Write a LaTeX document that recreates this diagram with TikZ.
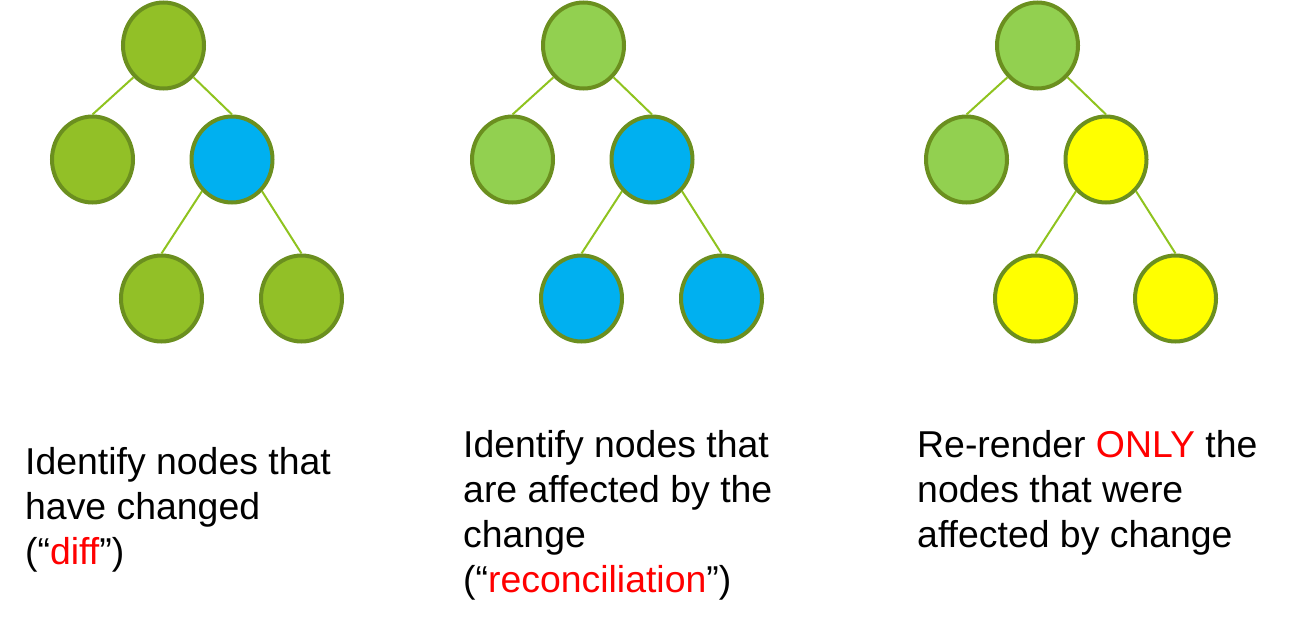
\documentclass[tikz,border=0pt]{standalone}
\usepackage{fontspec}
\setmainfont{Liberation Sans}
\usetikzlibrary{shapes.geometric}
\definecolor{rim}{HTML}{6B8F1F}
\definecolor{edgec}{HTML}{8FC31F}
\definecolor{greenA}{HTML}{92C027}
\definecolor{greenB}{HTML}{92D050}
\definecolor{blueN}{HTML}{00B0F0}
\definecolor{yellowN}{HTML}{FFFF00}
\definecolor{redT}{HTML}{FF0000}
\tikzset{
  tnode/.style={ellipse, draw=rim, line width=4pt, minimum width=81pt, minimum height=86pt, inner sep=0pt},
  tedge/.style={draw=edgec, line width=2pt},
  caption/.style={anchor=base west, align=left, inner sep=0pt, font=\fontsize{37.4}{45}\selectfont}
}
\begin{document}
\begin{tikzpicture}[x=1pt,y=-1pt]
\useasboundingbox (0,0) rectangle (1290,624);
% tree 1
\node[tnode, fill=greenA] (a1) at (163.5,45.5) {};
\node[tnode, fill=greenA] (b1) at (92.5,159.5) {};
\node[tnode, fill=blueN] (c1) at (232,159.5) {};
\node[tnode, fill=greenA] (d1) at (161.5,298.5) {};
\node[tnode, fill=greenA] (e1) at (301.5,298.5) {};
% tree 2
\node[tnode, fill=greenB] (a2) at (583.5,45.5) {};
\node[tnode, fill=greenB] (b2) at (512.5,159.5) {};
\node[tnode, fill=blueN] (c2) at (652,159.5) {};
\node[tnode, fill=blueN] (d2) at (581.5,298.5) {};
\node[tnode, fill=blueN] (e2) at (721.5,298.5) {};
% tree 3
\node[tnode, fill=greenB] (a3) at (1037.5,45.5) {};
\node[tnode, fill=greenB] (b3) at (966.5,159.5) {};
\node[tnode, fill=yellowN] (c3) at (1106,159.5) {};
\node[tnode, fill=yellowN] (d3) at (1035.5,298.5) {};
\node[tnode, fill=yellowN] (e3) at (1175.5,298.5) {};
\foreach \t in {1,2,3}{
  \draw[tedge] (a\t.south west) -- (b\t.north);
  \draw[tedge] (a\t.south east) -- (c\t.north);
  \draw[tedge] (c\t.south west) -- (d\t.north);
  \draw[tedge] (c\t.south east) -- (e\t.north);
}
\node[caption] (t1) at (25,564) {Identify nodes that\\have changed\\(“\textcolor{redT}{diff}”)};
\node[caption] (t2) at (463,592) {Identify nodes that\\are affected by the\\change\\(“\textcolor{redT}{reconciliation}”)};
\node[caption] (t3) at (917,547) {Re-render \textcolor{redT}{ONLY} the\\nodes that were\\affected by change};
\end{tikzpicture}
\end{document}
